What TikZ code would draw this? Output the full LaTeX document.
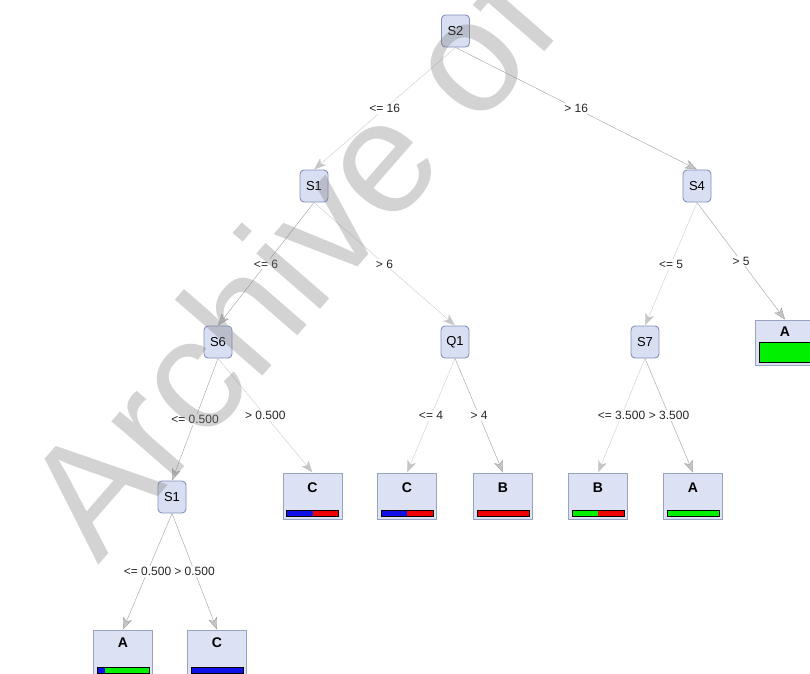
\documentclass[tikz,border=0pt]{standalone}
\usepackage{fontspec}
\setmainfont{Liberation Sans}
\usepackage{tikz}
\usetikzlibrary{arrows.meta}
\definecolor{nodefill}{HTML}{D9DFF3}
\definecolor{nodeline}{HTML}{8290BA}
\definecolor{leaffill}{HTML}{DCE2F3}
\definecolor{leafline}{HTML}{98A3C2}
\definecolor{barblue}{HTML}{1010E8}
\definecolor{bargreen}{HTML}{00F000}
\definecolor{barred}{HTML}{F00000}
\tikzset{
  split/.style     = {draw=nodeline,line width=0.9pt,fill=nodefill,rounded corners=4pt,minimum width=28pt,
                      minimum height=32pt,inner sep=0pt,font=\fontsize{13}{13}\selectfont},
  leaf/.style      = {draw=leafline,line width=0.9pt,fill=leaffill,minimum width=59pt,minimum height=46pt,inner sep=0pt},
  leaftxt/.style   = {font=\fontsize{14}{14}\selectfont\bfseries},
  edge/.style      = {draw=gray!40,-{Stealth[length=12pt,width=9pt,inset=3pt,fill=gray!45]}},
  heavyedge/.style = {edge,draw=gray!75},
  cond/.style      = {fill=white,inner sep=1pt,text=black!85,font=\fontsize{12}{13}\selectfont}
}
% class distribution bar under a leaf: [height]{leaf}{blue share}{green share}, red is the rest
\newcommand{\distbar}[4][6]{%
  \begin{scope}[shift={(#2.center)}]
    \fill[barblue]  (-26,20) rectangle (-26+52*#3,20-#1);
    \fill[bargreen] (-26+52*#3,20) rectangle (-26+52*#3+52*#4,20-#1);
    \fill[barred]   (-26+52*#3+52*#4,20) rectangle (26,20-#1);
    \draw[black,line width=1pt] (-26,20) rectangle (26,20-#1);
  \end{scope}}

\begin{document}
\begin{tikzpicture}[x=1pt,y=-1pt]
  \useasboundingbox (0,0) rectangle (810,673);
  \clip (0,0) rectangle (810,673);
  % split nodes
  \node[split] (S2)  at (455.5,31) {S2};
  \node[split] (S1a) at (314,186)  {S1};
  \node[split] (S4)  at (697,186)  {S4};
  \node[split] (S6)  at (218,342)  {S6};
  \node[split] (Q1)  at (455,342)  {Q1};
  \node[split] (S7)  at (645,342)  {S7};
  \node[split] (S1b) at (172,497)  {S1};
  % leaves
  \node[leaf,label={[leaftxt,yshift=8pt]center:C}] (lfC2) at (312.5,496) {};
  \node[leaf,label={[leaftxt,yshift=8pt]center:C}] (lfC3) at (407,496)   {};
  \node[leaf,label={[leaftxt,yshift=8pt]center:B}] (lfB1) at (503,496)   {};
  \node[leaf,label={[leaftxt,yshift=8pt]center:B}] (lfB2) at (598,496)   {};
  \node[leaf,label={[leaftxt,yshift=8pt]center:A}] (lfA2) at (693,496)   {};
  \node[leaf,label={[leaftxt,yshift=11pt]center:A},minimum height=45pt] (lfA3) at (785,342.5) {};
  \node[leaf,label={[leaftxt,yshift=10pt]center:A}] (lfA1) at (123,653)   {};
  \node[leaf,label={[leaftxt,yshift=10pt]center:C}] (lfC1) at (217,653)   {};
  \distbar{lfC2}{0.5}{0}
  \distbar{lfC3}{0.5}{0}
  \distbar{lfB1}{0}{0}
  \distbar{lfB2}{0}{0.5}
  \distbar{lfA2}{0}{1}
  \distbar[20]{lfA3}{0}{1}
  \distbar{lfA1}{0.15}{0.85}
  \distbar{lfC1}{1}{0}
  % edges
  \draw[edge]      (S2.south)  -- node[cond] (c1)  {<= 16}    (S1a.north);
  \draw[heavyedge] (S2.south)  -- node[cond] (c2)  {> 16}     (S4.north);
  \draw[heavyedge] (S1a.south) -- node[cond] (c3)  {<= 6}     (S6.north);
  \draw[edge]      (S1a.south) -- node[cond] (c4)  {> 6}      (Q1.north);
  \draw[edge]      (S4.south)  -- node[cond] (c5)  {<= 5}     (S7.north);
  \draw[heavyedge] (S4.south)  -- node[cond] (c6)  {> 5}      (lfA3.north);
  \draw[heavyedge] (S6.south)  -- node[cond] (c7)  {<= 0.500} (S1b.north);
  \draw[edge]      (S6.south)  -- node[cond] (c8)  {> 0.500}  (lfC2.north);
  \draw[edge]      (Q1.south)  -- node[cond] (c9)  {<= 4}     (lfC3.north);
  \draw[heavyedge] (Q1.south)  -- node[cond] (c10) {> 4}      (lfB1.north);
  \draw[edge]      (S7.south)  -- node[cond] (c11) {<= 3.500} (lfB2.north);
  \draw[heavyedge] (S7.south)  -- node[cond] (c12) {> 3.500}  (lfA2.north);
  \draw[heavyedge] (S1b.south) -- node[cond] (c13) {<= 0.500} (lfA1.north);
  \draw[heavyedge] (S1b.south) -- node[cond] (c14) {> 0.500}  (lfC1.north);
  % watermark
  \node[rotate=49,anchor=base west,text=gray,opacity=0.35,inner sep=0pt,
        font=\fontsize{160}{160}\selectfont] (wm) at (98,566) {Archive of};
\end{tikzpicture}
\end{document}
